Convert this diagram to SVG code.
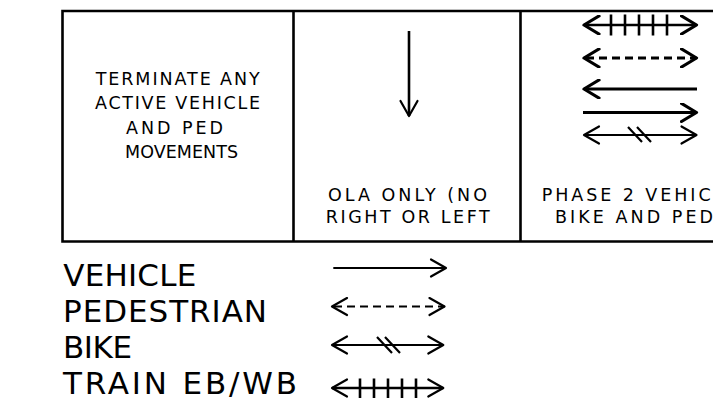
<svg xmlns="http://www.w3.org/2000/svg" width="713" height="410" viewBox="0 0 713 410">
<style>
.frame{stroke:#000;stroke-width:2.6;fill:none;stroke-linecap:square}
.t{font-family:"DejaVu Sans","Liberation Sans",Arial,sans-serif;fill:#000}
.s{font-size:17.5px}
.l{font-size:31px}
.ln{stroke:#000;fill:none}
.w2{stroke-width:2.2}
.w25{stroke-width:2.6}
.w3{stroke-width:3.2}
.dash{stroke-dasharray:8 5}
.mk2{stroke:#000;stroke-width:2.2;fill:none;stroke-linecap:round;stroke-linejoin:round}
.mk3{stroke:#000;stroke-width:3.2;fill:none;stroke-linecap:round;stroke-linejoin:round}
</style>
<defs>
<marker id="ch2" viewBox="0 0 20 20" markerWidth="20" markerHeight="20" refX="17" refY="10" orient="auto-start-reverse" markerUnits="userSpaceOnUse">
<path class="mk2" d="M2,1.5 L17,10 L2,18.5"/>
</marker>
<marker id="ch3" viewBox="0 0 20 20" markerWidth="20" markerHeight="20" refX="17" refY="10" orient="auto-start-reverse" markerUnits="userSpaceOnUse">
<path class="mk3" d="M2,1 L17,10 L2,19"/>
</marker>
</defs>
<rect width="713" height="410" fill="#fff"/>

<g id="frame">
<path class="frame" d="M62.5,11 H713 M62.5,241.5 H713 M62.5,11 V241.5 M293.5,11 V241.5 M520.5,11 V241.5"/>
</g>

<g id="cell-terminate">
<text class="t s" x="95.7" y="84.5" textLength="164" lengthAdjust="spacing">TERMINATE ANY</text>
<text class="t s" x="95" y="109" textLength="165" lengthAdjust="spacing">ACTIVE VEHICLE</text>
<text class="t s" x="126" y="133.5" textLength="97" lengthAdjust="spacing">AND PED</text>
<text class="t s" x="125" y="158" textLength="113" lengthAdjust="spacing">MOVEMENTS</text>
</g>

<g id="cell-ola">
<line class="ln w25" x1="409" y1="31" x2="409" y2="116" marker-end="url(#ch2)"/>
<text class="t s" x="328" y="200.5" textLength="159" lengthAdjust="spacing">OLA ONLY (NO</text>
<text class="t s" x="325.7" y="223" textLength="164" lengthAdjust="spacing">RIGHT OR LEFT</text>
</g>

<g id="cell-phase2">
<line class="ln w25" x1="584" y1="25" x2="696.5" y2="25" marker-start="url(#ch3)" marker-end="url(#ch3)"/>
<path class="ln w25" d="M611,14.5 V35.5 M625,14.5 V35.5 M639,14.5 V35.5 M653,14.5 V35.5 M667,14.5 V35.5"/>
<line class="ln w3 dash" x1="584" y1="58" x2="696.5" y2="58" stroke-dashoffset="-2" marker-start="url(#ch3)" marker-end="url(#ch3)"/>
<line class="ln w3" x1="584" y1="89" x2="697" y2="89" marker-start="url(#ch3)"/>
<line class="ln w3" x1="583" y1="112.5" x2="696.5" y2="112.5" marker-end="url(#ch3)"/>
<line class="ln w2" x1="584" y1="135" x2="696.5" y2="135" marker-start="url(#ch2)" marker-end="url(#ch2)"/>
<path class="ln w2" d="M628,127 L642,142 M637,127 L651,142"/>
<text class="t s" x="541.7" y="200.5" textLength="169" lengthAdjust="spacing">PHASE 2 VEHIC</text>
<text class="t s" x="555" y="223" textLength="158" lengthAdjust="spacing">BIKE AND PED</text>
</g>

<g id="legend-vehicle">
<text class="t l" x="63.3" y="286" textLength="133" lengthAdjust="spacing">VEHICLE</text>
<line class="ln w2" x1="333.3" y1="268" x2="446" y2="268" marker-end="url(#ch2)"/>
</g>
<g id="legend-pedestrian">
<text class="t l" x="63" y="321.7" textLength="204" lengthAdjust="spacing">PEDESTRIAN</text>
<line class="ln w2 dash" x1="332" y1="306.5" x2="444.5" y2="306.5" stroke-dashoffset="-2" marker-start="url(#ch2)" marker-end="url(#ch2)"/>
</g>
<g id="legend-bike">
<text class="t l" x="63" y="358" textLength="69" lengthAdjust="spacing">BIKE</text>
<line class="ln w2" x1="332" y1="345" x2="443.3" y2="345" marker-start="url(#ch2)" marker-end="url(#ch2)"/>
<path class="ln w2" d="M377,337 L392,353 M385,337 L400,353"/>
</g>
<g id="legend-train">
<text class="t l" x="63" y="394" textLength="234" lengthAdjust="spacing">TRAIN EB/WB</text>
<line class="ln w25" x1="332" y1="388" x2="443.3" y2="388" marker-start="url(#ch2)" marker-end="url(#ch2)"/>
<path class="ln w25" d="M360,378.5 V398 M374,378.5 V398 M388,378.5 V398 M402,378.5 V398 M416,378.5 V398"/>
</g>
</svg>
